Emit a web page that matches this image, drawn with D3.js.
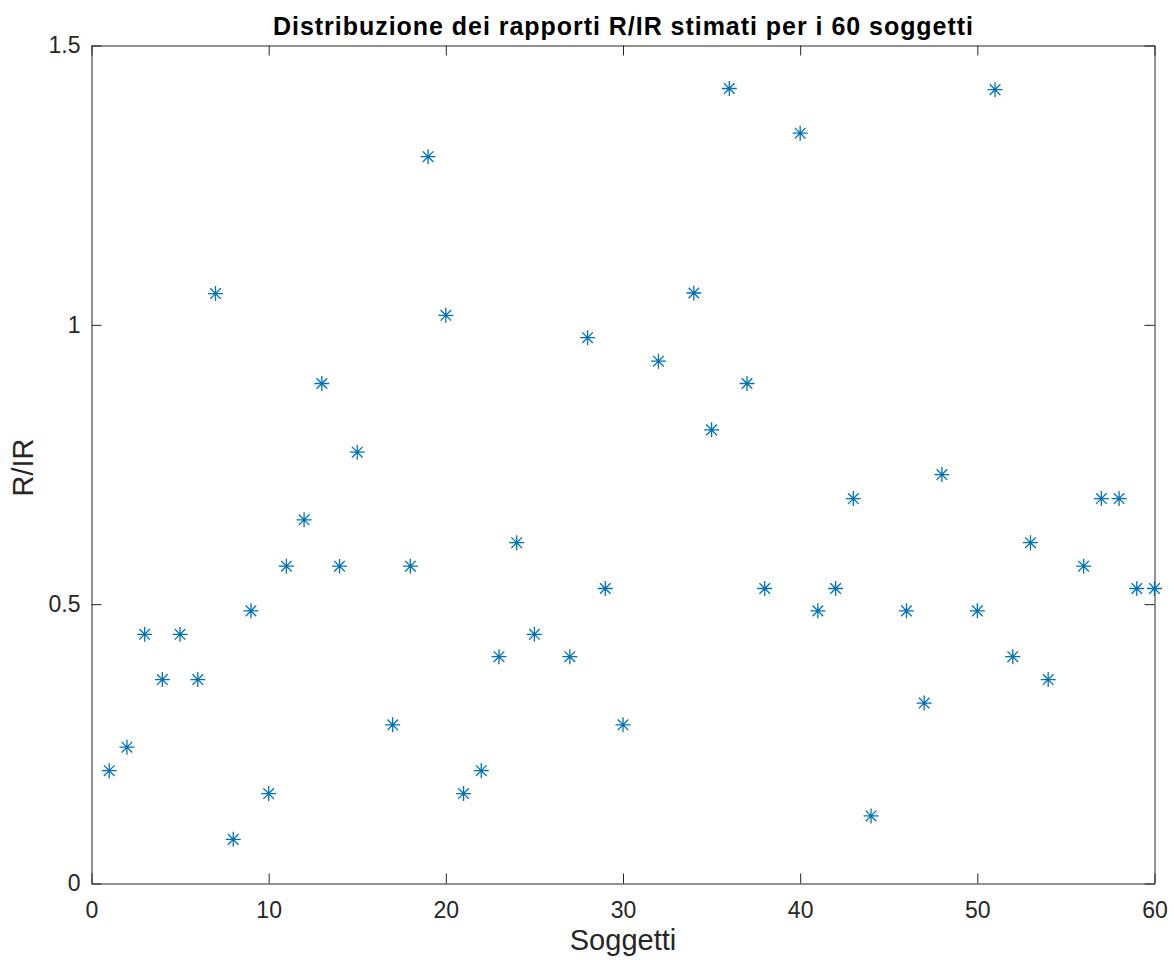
<!DOCTYPE html>
<html>
<head>
<meta charset="utf-8">
<script src="https://cdn.jsdelivr.net/npm/d3@7"></script>
<style>
  html, body { margin: 0; padding: 0; background: #fff; }
  svg { display: block; }
  text { font-family: "Liberation Sans", Arial, Helvetica, sans-serif; }
</style>
</head>
<body>
<svg id="chart" width="1174" height="960"></svg>
<script>
// ---- data ----
const subjects = d3.range(1, 61);
const ratios = [
  0.202, 0.244, 0.446, 0.365, 0.446, 0.365, 1.056, 0.079, 0.488, 0.161,
  0.568, 0.651, 0.895, 0.568, 0.772, null, 0.284, 0.568, 1.301, 1.017,
  0.161, 0.202, 0.406, 0.610, 0.446, null, 0.406, 0.977, 0.528, 0.284,
  null, 0.935, null, 1.057, 0.812, 1.423, 0.895, 0.528, null, 1.343,
  0.488, 0.528, 0.689, 0.121, null, 0.488, 0.323, 0.732, null, 0.488,
  1.421, 0.406, 0.610, 0.365, null, 0.568, 0.689, 0.689, 0.528, 0.528
];
const xTicks = [0, 10, 20, 30, 40, 50, 60];
const yTicks = [0, 0.5, 1, 1.5];
const yTickLabels = ["0", "0.5", "1", "1.5"];
const titleText = "Distribuzione dei rapporti R/IR stimati per i 60 soggetti";
const xLabel = "Soggetti";
const yLabel = "R/IR";

// ---- layout ----
const pLeft = 91.5, pRight = 1154.5, pTop = 45.5, pBottom = 883.5;
const axisColor = "#262626";
const markerColor = "#0072BD";

const svg = d3.select("#chart");
const x = d3.scaleLinear().domain([0, 60]).range([pLeft, pRight]);
const y = d3.scaleLinear().domain([0, 1.5]).range([pBottom, pTop]);

function styleAxis(g, fs) {
  g.attr("font-size", null).attr("font-family", null);
  g.selectAll("path.domain").attr("stroke", axisColor).attr("stroke-width", 1);
  g.selectAll(".tick line").attr("stroke", axisColor).attr("stroke-width", 1);
  g.selectAll(".tick text").attr("fill", axisColor).style("font-size", fs + "px");
}

// bottom axis
svg.append("g").attr("transform", `translate(0,${pBottom})`)
  .call(d3.axisBottom(x).tickValues(xTicks).tickSizeInner(-10).tickSizeOuter(0).tickPadding(18))
  .call(g => styleAxis(g, 23));
// top axis
svg.append("g").attr("transform", `translate(0,${pTop})`)
  .call(d3.axisTop(x).tickValues(xTicks).tickSizeInner(-10).tickSizeOuter(0).tickFormat(""))
  .call(g => styleAxis(g, 23));
// left axis
svg.append("g").attr("transform", `translate(${pLeft},0)`)
  .call(d3.axisLeft(y).tickValues(yTicks).tickSizeInner(-10).tickSizeOuter(0).tickPadding(11)
    .tickFormat((d, i) => yTickLabels[i]))
  .call(g => styleAxis(g, 23));
// right axis
svg.append("g").attr("transform", `translate(${pRight},0)`)
  .call(d3.axisRight(y).tickValues(yTicks).tickSizeInner(-10).tickSizeOuter(0).tickFormat(""))
  .call(g => styleAxis(g, 23));

// ---- markers (asterisk) ----
const r = 7.5, rd = r * 0.7071;
const starPath = `M${-r},0L${r},0M0,${-r}L0,${r}M${-rd},${-rd}L${rd},${rd}M${-rd},${rd}L${rd},${-rd}`;
const pts = subjects.map((s, i) => ({ s, v: ratios[i] })).filter(d => d.v !== null);
svg.append("g").selectAll("path").data(pts).join("path")
  .attr("d", starPath)
  .attr("transform", d => `translate(${x(d.s)},${y(d.v)})`)
  .attr("fill", "none")
  .attr("stroke", markerColor)
  .attr("stroke-width", 1.3);

// ---- labels ----
svg.append("text")
  .attr("x", (pLeft + pRight) / 2).attr("y", 35)
  .attr("text-anchor", "middle")
  .attr("font-weight", "bold")
  .attr("fill", "#000")
  .attr("textLength", 700)
  .attr("lengthAdjust", "spacing")
  .style("font-size", "25px")
  .text(titleText);

svg.append("text")
  .attr("x", (pLeft + pRight) / 2).attr("y", 950)
  .attr("text-anchor", "middle")
  .attr("fill", axisColor)
  .style("font-size", "29px")
  .text(xLabel);

svg.append("text")
  .attr("transform", `translate(33,${(pTop + pBottom) / 2 + 3}) rotate(-90)`)
  .attr("text-anchor", "middle")
  .attr("fill", axisColor)
  .style("font-size", "29px")
  .text(yLabel);
</script>
</body>
</html>
